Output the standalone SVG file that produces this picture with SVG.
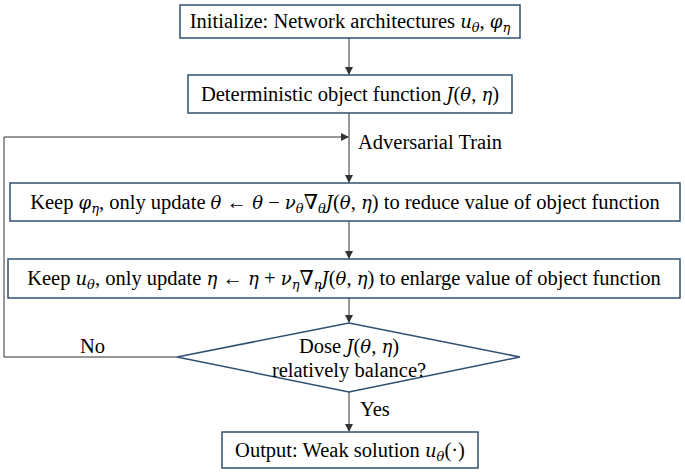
<svg xmlns="http://www.w3.org/2000/svg" width="685" height="472" viewBox="0 0 685 472">
<defs>
<style>
.b{fill:#fff;stroke:#2f5070;stroke-width:1.5}
.t{font-family:"Liberation Serif","DejaVu Serif",serif;font-size:20.5px;fill:#000}
.m{font-style:italic;font-family:"DejaVu Serif",serif;font-size:18px}
.s{font-style:italic;font-family:"DejaVu Serif",serif;font-size:13px}
.c{fill:none;stroke:#333;stroke-width:1}
</style>
<marker id="a" markerWidth="8" markerHeight="8" refX="7" refY="4" orient="auto" markerUnits="userSpaceOnUse"><path d="M0,0 L8,4 L0,8 z" fill="#333"/></marker>
</defs>
<rect width="685" height="472" fill="#fff"/>
<g id="connectors">
<line class="c" x1="349" y1="38" x2="349" y2="74" marker-end="url(#a)"/>
<line class="c" x1="349" y1="113" x2="349" y2="182" marker-end="url(#a)"/>
<line class="c" x1="349" y1="221" x2="349" y2="258" marker-end="url(#a)"/>
<line class="c" x1="349" y1="298" x2="349" y2="322" marker-end="url(#a)"/>
<line class="c" x1="349" y1="392" x2="349" y2="431" marker-end="url(#a)"/>
<polyline class="c" points="177,357 4,357 4,137 348,137" marker-end="url(#a)"/>
<text class="t" x="358" y="149">Adversarial Train</text>
<text class="t" x="80" y="353">No</text>
<text class="t" x="360" y="416">Yes</text>
</g>
<g id="n1"><rect class="b" x="180" y="5" width="340" height="33"/>
<text class="t" x="350" y="28" text-anchor="middle">Initialize: Network architectures <tspan class="m">u</tspan><tspan class="s" dy="4">θ</tspan><tspan dy="-4">, </tspan><tspan class="m">φ</tspan><tspan class="s" dy="4">η</tspan></text></g>
<g id="n2"><rect class="b" x="188" y="75" width="324" height="38"/>
<text class="t" x="350" y="101" text-anchor="middle">Deterministic object function <tspan class="m">J</tspan>(<tspan class="m">θ</tspan>, <tspan class="m">η</tspan>)</text></g>
<g id="n3"><rect class="b" x="10" y="183" width="670" height="38"/>
<text class="t" x="345" y="209" text-anchor="middle">Keep <tspan class="m">φ</tspan><tspan class="s" dy="4">η</tspan><tspan dy="-4">, only update </tspan><tspan class="m">θ</tspan> ← <tspan class="m">θ</tspan> − <tspan class="m">ν</tspan><tspan class="s" dy="4">θ</tspan><tspan dy="-4">∇</tspan><tspan class="s" dy="4">θ</tspan><tspan class="m" dy="-4">J</tspan>(<tspan class="m">θ</tspan>, <tspan class="m">η</tspan>) to reduce value of object function</text></g>
<g id="n4"><rect class="b" x="8" y="259" width="672" height="39"/>
<text class="t" x="344" y="285" text-anchor="middle">Keep <tspan class="m">u</tspan><tspan class="s" dy="4">θ</tspan><tspan dy="-4">, only update </tspan><tspan class="m">η</tspan> ← <tspan class="m">η</tspan> + <tspan class="m">ν</tspan><tspan class="s" dy="4">η</tspan><tspan dy="-4">∇</tspan><tspan class="s" dy="4">η</tspan><tspan class="m" dy="-4">J</tspan>(<tspan class="m">θ</tspan>, <tspan class="m">η</tspan>) to enlarge value of object function</text></g>
<g id="n5"><polygon class="b" points="349,323 520,357 349,392 177,357"/>
<text class="t" x="349" y="353" text-anchor="middle">Dose <tspan class="m">J</tspan>(<tspan class="m">θ</tspan>, <tspan class="m">η</tspan>)</text>
<text class="t" x="349" y="377" text-anchor="middle">relatively balance?</text></g>
<g id="n6"><rect class="b" x="222" y="432" width="256" height="36"/>
<text class="t" x="350" y="457" text-anchor="middle">Output: Weak solution <tspan class="m">u</tspan><tspan class="s" dy="4">θ</tspan><tspan dy="-4">(·)</tspan></text></g>
</svg>
